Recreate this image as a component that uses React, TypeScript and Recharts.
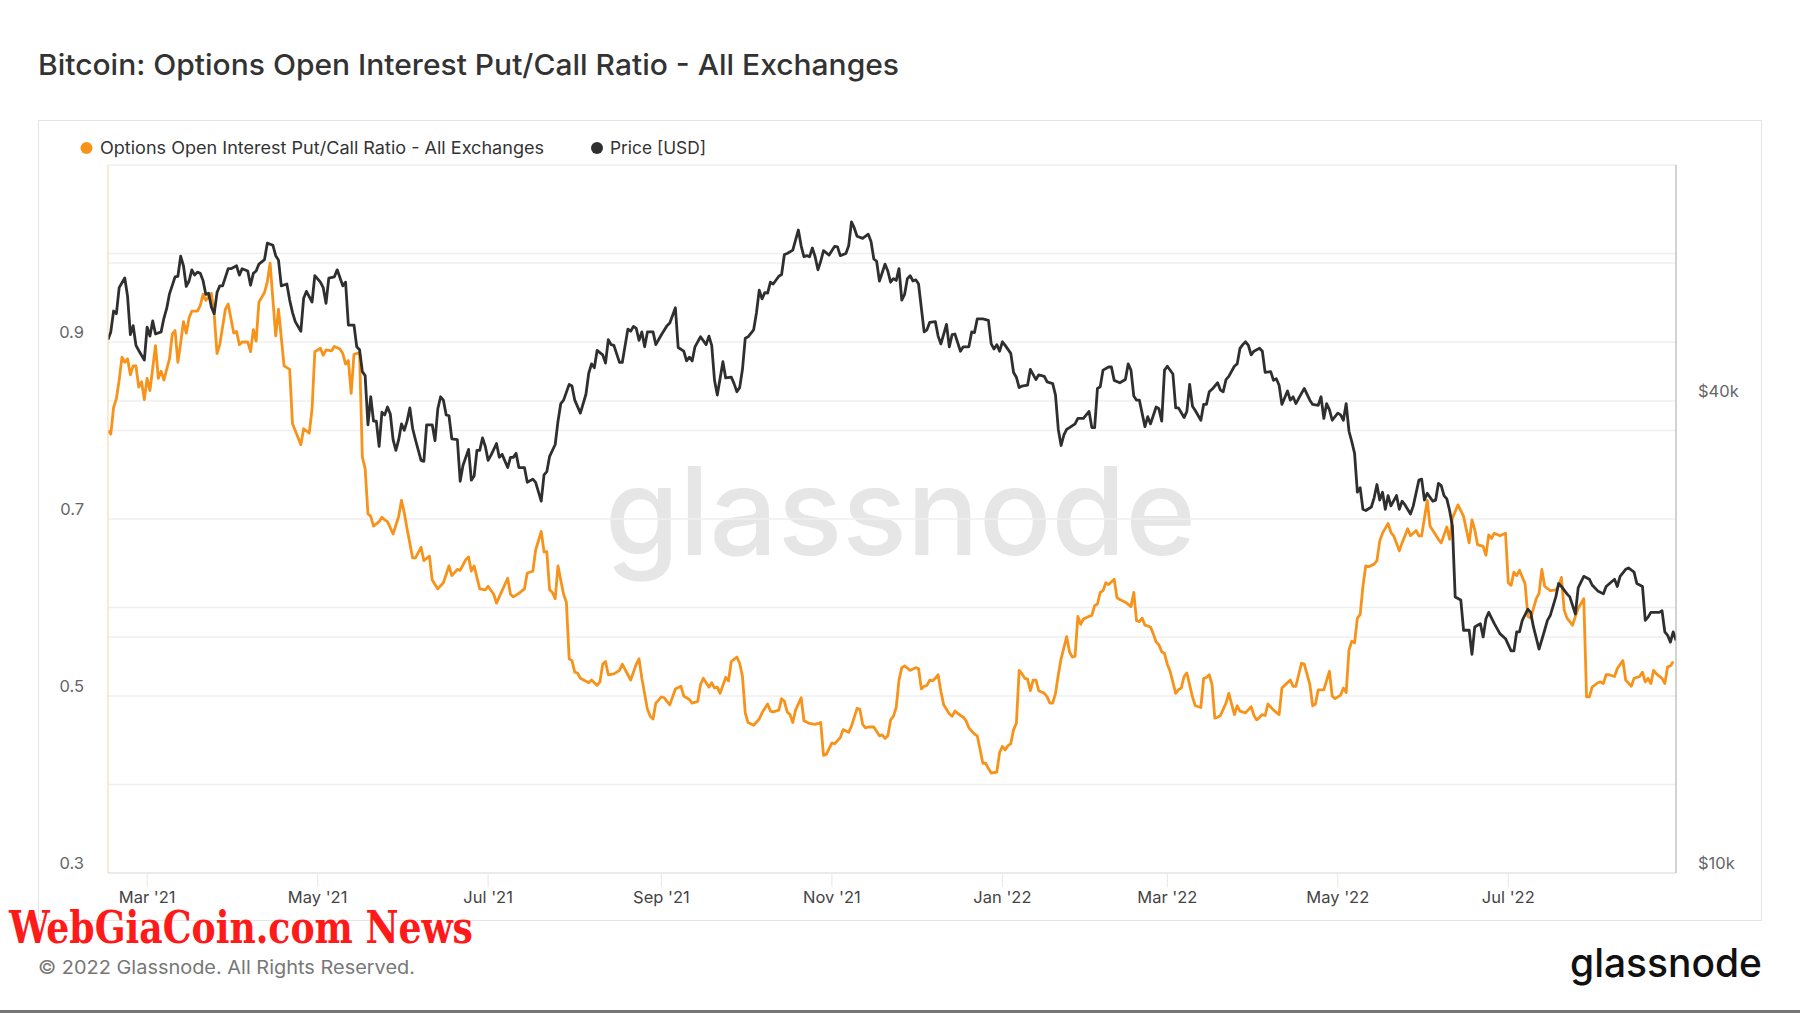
import React from 'react';
import { LineChart, Line, XAxis, YAxis, CartesianGrid, ReferenceLine } from 'recharts';

// day 0 = 2021-02-15, the first day on the chart
const START_DATE = '2021-02-15';
const LAST_DAY = 561;
const DAY_MS = 86400000;

const ratioDays = [
  0, 1, 2, 3, 4, 5, 6, 7, 8, 9,
  10, 11, 12, 13, 14, 15, 17, 18, 19, 20,
  21, 22, 23, 24, 25, 26, 27, 28, 29, 30,
  32, 33, 34, 35, 37, 38, 39, 40, 42, 43,
  45, 46, 47, 48, 50, 51, 52, 53, 54, 56,
  57, 58, 60, 61, 63, 65, 66, 69, 70, 72,
  73, 74, 76, 77, 78, 80, 81, 83, 84, 85,
  86, 87, 88, 90, 91, 92, 93, 94, 95, 97,
  98, 99, 100, 102, 104, 105, 106, 107, 109, 110,
  112, 113, 115, 116, 118, 120, 122, 123, 125, 126,
  128, 129, 130, 131, 133, 135, 136, 138, 139, 141,
  143, 144, 145, 147, 149, 150, 152, 153, 155, 156,
  157, 158, 159, 160, 161, 163, 164, 165, 166, 167,
  168, 169, 172, 173, 175, 176, 177, 178, 179, 181,
  183, 184, 186, 187, 188, 189, 190, 191, 193, 194,
  195, 196, 198, 199, 201, 203, 205, 206, 208, 209,
  211, 212, 213, 215, 216, 217, 218, 219, 221, 222,
  223, 225, 226, 227, 228, 229, 231, 233, 234, 236,
  237, 238, 240, 241, 242, 243, 244, 245, 246, 248,
  249, 251, 253, 255, 256, 257, 259, 260, 262, 263,
  265, 266, 268, 269, 270, 271, 272, 274, 276, 277,
  278, 279, 280, 281, 282, 283, 284, 285, 287, 289,
  290, 291, 292, 293, 294, 295, 296, 297, 298, 299,
  301, 302, 303, 305, 306, 307, 308, 310, 311, 312,
  313, 314, 315, 316, 318, 319, 320, 321, 322, 323,
  324, 325, 326, 327, 328, 329, 330, 331, 332, 333,
  335, 336, 337, 338, 339, 340, 341, 343, 344, 345,
  346, 347, 348, 349, 351, 352, 353, 354, 355, 356,
  357, 358, 360, 361, 362, 364, 366, 367, 368, 369,
  370, 371, 373, 374, 375, 376, 377, 378, 379, 380,
  382, 383, 384, 385, 386, 388, 389, 391, 392, 393,
  394, 395, 396, 397, 398, 400, 401, 403, 404, 405,
  407, 409, 410, 411, 413, 414, 415, 417, 419, 420,
  421, 423, 424, 425, 427, 428, 430, 431, 432, 433,
  435, 437, 438, 439, 441, 442, 443, 444, 445, 446,
  447, 448, 449, 450, 451, 453, 454, 455, 456, 458,
  459, 460, 462, 463, 465, 466, 468, 469, 470, 472,
  473, 474, 476, 477, 479, 480, 481, 483, 485, 486,
  487, 488, 489, 490, 492, 493, 494, 495, 496, 498,
  500, 501, 502, 503, 504, 505, 507, 508, 509, 511,
  512, 513, 514, 516, 518, 519, 520, 521, 522, 524,
  525, 526, 528, 529, 530, 531, 533, 534, 535, 536,
  537, 539, 540, 542, 543, 545, 546, 548, 549, 550,
  551, 552, 553, 554, 556, 557, 558, 559, 560,
];

const ratioValues = [
  0.800, 0.796, 0.826, 0.836, 0.857, 0.883, 0.877, 0.881, 0.863, 0.873,
  0.873, 0.849, 0.855, 0.835, 0.859, 0.845, 0.896, 0.859, 0.867, 0.857,
  0.869, 0.881, 0.909, 0.913, 0.877, 0.899, 0.923, 0.910, 0.927, 0.935,
  0.935, 0.941, 0.954, 0.947, 0.955, 0.931, 0.887, 0.897, 0.937, 0.943,
  0.910, 0.912, 0.897, 0.900, 0.900, 0.889, 0.914, 0.901, 0.945, 0.956,
  0.968, 0.989, 0.907, 0.937, 0.873, 0.869, 0.808, 0.784, 0.802, 0.797,
  0.824, 0.889, 0.893, 0.885, 0.891, 0.890, 0.895, 0.892, 0.887, 0.875,
  0.879, 0.842, 0.886, 0.888, 0.770, 0.757, 0.706, 0.703, 0.692, 0.697,
  0.702, 0.699, 0.697, 0.683, 0.703, 0.721, 0.707, 0.689, 0.656, 0.656,
  0.668, 0.653, 0.658, 0.631, 0.621, 0.628, 0.647, 0.636, 0.643, 0.642,
  0.654, 0.657, 0.641, 0.647, 0.621, 0.620, 0.624, 0.615, 0.605, 0.619,
  0.633, 0.615, 0.612, 0.616, 0.621, 0.639, 0.641, 0.665, 0.686, 0.663,
  0.663, 0.620, 0.617, 0.610, 0.647, 0.615, 0.606, 0.542, 0.540, 0.527,
  0.526, 0.520, 0.515, 0.518, 0.512, 0.516, 0.536, 0.539, 0.524, 0.525,
  0.529, 0.536, 0.524, 0.518, 0.527, 0.536, 0.542, 0.520, 0.485, 0.477,
  0.474, 0.492, 0.499, 0.498, 0.490, 0.508, 0.511, 0.500, 0.496, 0.492,
  0.494, 0.513, 0.520, 0.510, 0.515, 0.509, 0.510, 0.503, 0.521, 0.517,
  0.539, 0.544, 0.537, 0.522, 0.481, 0.470, 0.467, 0.474, 0.481, 0.491,
  0.483, 0.482, 0.484, 0.497, 0.494, 0.482, 0.479, 0.470, 0.484, 0.498,
  0.472, 0.469, 0.468, 0.470, 0.433, 0.434, 0.447, 0.446, 0.453, 0.462,
  0.459, 0.466, 0.486, 0.485, 0.468, 0.464, 0.465, 0.465, 0.455, 0.456,
  0.452, 0.455, 0.473, 0.477, 0.487, 0.518, 0.532, 0.534, 0.529, 0.532,
  0.531, 0.508, 0.511, 0.512, 0.518, 0.517, 0.520, 0.524, 0.505, 0.490,
  0.480, 0.477, 0.483, 0.478, 0.476, 0.472, 0.464, 0.457, 0.455, 0.440,
  0.424, 0.424, 0.418, 0.413, 0.414, 0.436, 0.443, 0.439, 0.444, 0.446,
  0.462, 0.469, 0.529, 0.525, 0.520, 0.519, 0.506, 0.518, 0.518, 0.506,
  0.503, 0.499, 0.492, 0.492, 0.503, 0.524, 0.542, 0.567, 0.550, 0.544,
  0.545, 0.590, 0.581, 0.587, 0.590, 0.591, 0.602, 0.604, 0.617, 0.619,
  0.628, 0.626, 0.632, 0.611, 0.609, 0.606, 0.601, 0.617, 0.585, 0.584,
  0.588, 0.580, 0.578, 0.570, 0.561, 0.558, 0.550, 0.548, 0.536, 0.528,
  0.503, 0.507, 0.509, 0.522, 0.526, 0.499, 0.489, 0.487, 0.520, 0.521,
  0.524, 0.513, 0.475, 0.476, 0.478, 0.492, 0.503, 0.479, 0.489, 0.483,
  0.481, 0.488, 0.478, 0.473, 0.479, 0.478, 0.491, 0.484, 0.479, 0.509,
  0.512, 0.518, 0.511, 0.511, 0.537, 0.536, 0.513, 0.489, 0.491, 0.507,
  0.507, 0.528, 0.500, 0.497, 0.501, 0.509, 0.504, 0.552, 0.562, 0.560,
  0.588, 0.592, 0.624, 0.647, 0.646, 0.649, 0.653, 0.675, 0.684, 0.695,
  0.685, 0.681, 0.664, 0.673, 0.689, 0.681, 0.687, 0.681, 0.681, 0.721,
  0.692, 0.687, 0.677, 0.673, 0.691, 0.677, 0.701, 0.716, 0.703, 0.688,
  0.673, 0.699, 0.688, 0.671, 0.669, 0.659, 0.682, 0.678, 0.684, 0.681,
  0.684, 0.628, 0.625, 0.640, 0.636, 0.642, 0.627, 0.590, 0.588, 0.610,
  0.616, 0.643, 0.624, 0.619, 0.620, 0.624, 0.634, 0.597, 0.588, 0.580,
  0.590, 0.599, 0.610, 0.499, 0.499, 0.510, 0.515, 0.516, 0.514, 0.524,
  0.524, 0.522, 0.531, 0.540, 0.518, 0.511, 0.520, 0.522, 0.527, 0.516,
  0.520, 0.514, 0.529, 0.525, 0.520, 0.514, 0.533, 0.534, 0.539,
];

const priceDays = [
  0, 1, 2, 3, 4, 6, 7, 8, 9, 10,
  11, 13, 14, 15, 16, 17, 19, 20, 21, 22,
  24, 25, 26, 27, 28, 29, 30, 31, 32, 33,
  34, 35, 36, 37, 38, 39, 40, 41, 43, 44,
  46, 47, 48, 50, 51, 52, 53, 54, 56, 57,
  59, 60, 61, 62, 64, 65, 66, 67, 69, 70,
  71, 73, 74, 76, 77, 78, 79, 81, 82, 84,
  85, 86, 88, 89, 90, 91, 92, 93, 94, 95,
  96, 97, 98, 99, 100, 101, 102, 103, 104, 105,
  106, 107, 108, 109, 110, 112, 113, 114, 116, 117,
  118, 119, 120, 121, 122, 123, 125, 126, 127, 129,
  130, 131, 132, 133, 134, 135, 136, 137, 139, 140,
  141, 143, 144, 145, 146, 147, 149, 150, 152, 153,
  155, 156, 157, 158, 160, 161, 162, 163, 165, 166,
  167, 169, 171, 172, 173, 174, 175, 177, 178, 179,
  180, 181, 183, 184, 186, 187, 188, 189, 190, 191,
  192, 193, 195, 196, 198, 200, 201, 203, 204, 206,
  207, 208, 209, 210, 212, 214, 215, 216, 217, 218,
  220, 221, 223, 224, 225, 226, 227, 228, 229, 231,
  232, 233, 234, 235, 236, 237, 238, 240, 241, 242,
  243, 245, 247, 248, 249, 250, 251, 252, 253, 254,
  255, 256, 258, 260, 261, 262, 264, 265, 266, 267,
  268, 270, 272, 273, 274, 275, 276, 277, 278, 279,
  280, 281, 282, 283, 284, 285, 286, 287, 288, 289,
  290, 292, 293, 294, 296, 297, 298, 300, 301, 302,
  303, 305, 306, 308, 309, 310, 311, 313, 315, 316,
  317, 318, 319, 320, 321, 323, 324, 325, 326, 327,
  329, 330, 332, 333, 335, 336, 338, 339, 340, 341,
  342, 343, 344, 346, 347, 349, 351, 352, 353, 354,
  355, 356, 358, 359, 360, 362, 364, 365, 366, 367,
  368, 369, 371, 372, 373, 375, 376, 377, 378, 379,
  381, 382, 383, 385, 386, 387, 388, 389, 391, 392,
  393, 394, 395, 397, 398, 399, 400, 401, 403, 404,
  405, 406, 407, 408, 409, 410, 412, 413, 414, 416,
  417, 418, 419, 420, 422, 423, 424, 425, 427, 428,
  430, 431, 433, 434, 435, 436, 437, 438, 440, 441,
  442, 443, 444, 445, 446, 447, 448, 449, 450, 452,
  453, 454, 455, 456, 457, 458, 459, 461, 462, 463,
  464, 466, 467, 469, 470, 471, 472, 474, 475, 476,
  477, 478, 479, 480, 481, 482, 484, 485, 487, 488,
  489, 490, 491, 492, 493, 494, 496, 498, 500, 502,
  503, 504, 505, 506, 508, 509, 510, 512, 514, 515,
  516, 518, 519, 520, 522, 523, 525, 526, 528, 530,
  531, 533, 535, 536, 539, 540, 541, 543, 544, 546,
  547, 549, 550, 551, 552, 555, 556, 557, 558, 559,
  560, 561,
];

// BTC price, thousands of USD
const priceValuesK = [
  47.9, 49.0, 52.1, 51.7, 55.8, 57.4, 54.4, 48.6, 49.9, 47.1,
  46.4, 45.1, 49.7, 48.4, 50.6, 48.7, 49.0, 51.0, 52.5, 54.8,
  57.6, 57.7, 61.2, 59.5, 56.0, 56.9, 58.8, 57.9, 58.4, 58.2,
  57.0, 54.7, 54.9, 52.7, 51.7, 55.0, 56.1, 56.1, 59.0, 59.0,
  59.5, 57.9, 59.0, 58.6, 56.2, 58.2, 58.6, 59.8, 60.6, 63.6,
  63.2, 61.3, 60.5, 56.1, 56.4, 53.8, 51.9, 50.5, 49.1, 54.1,
  55.2, 53.5, 57.8, 56.7, 55.8, 53.3, 57.4, 57.6, 58.8, 56.1,
  56.7, 50.0, 50.0, 46.9, 46.5, 43.6, 43.1, 37.3, 40.5, 37.7,
  37.7, 35.0, 38.7, 38.4, 39.3, 38.5, 35.7, 34.6, 35.7, 37.4,
  36.7, 37.7, 39.2, 36.9, 35.7, 33.6, 33.5, 37.3, 37.3, 35.6,
  39.1, 40.5, 40.1, 38.4, 38.3, 35.8, 35.7, 31.6, 33.1, 34.7,
  31.7, 32.1, 34.6, 34.6, 35.9, 35.0, 33.6, 34.1, 35.3, 33.9,
  34.2, 32.9, 33.9, 33.9, 34.3, 32.9, 32.9, 31.5, 31.8, 31.5,
  29.8, 32.2, 32.5, 34.0, 35.2, 37.7, 39.7, 40.1, 42.0, 41.8,
  40.1, 38.6, 40.8, 43.4, 44.6, 44.1, 46.4, 45.8, 44.7, 47.9,
  47.2, 47.1, 44.8, 44.8, 49.4, 49.1, 49.8, 49.5, 47.8, 49.0,
  46.9, 49.0, 49.0, 47.2, 48.6, 49.9, 50.3, 52.6, 46.8, 46.3,
  45.0, 45.5, 45.0, 46.9, 48.3, 47.2, 48.4, 47.1, 42.5, 40.7,
  44.9, 42.8, 42.9, 42.1, 41.1, 41.6, 43.9, 48.1, 48.3, 49.3,
  51.8, 55.4, 54.0, 55.0, 54.9, 56.7, 56.4, 57.7, 58.0, 61.5,
  61.7, 62.3, 66.1, 63.1, 61.1, 61.3, 61.1, 62.7, 61.1, 58.8,
  60.3, 62.2, 61.4, 63.0, 62.9, 61.3, 61.7, 63.1, 67.7, 66.5,
  64.9, 64.5, 65.3, 63.9, 60.7, 60.3, 56.9, 58.3, 59.8, 58.6,
  56.7, 57.3, 57.0, 59.0, 53.8, 54.7, 57.3, 57.8, 56.9, 57.1,
  56.4, 49.0, 49.3, 50.4, 50.5, 48.4, 47.3, 50.1, 46.9, 48.6,
  48.7, 46.3, 46.9, 46.9, 49.0, 48.9, 50.9, 50.9, 50.7, 47.3,
  46.6, 47.2, 46.3, 47.6, 47.1, 46.0, 43.5, 42.9, 41.6, 41.8,
  41.9, 43.9, 42.6, 43.2, 43.0, 42.3, 42.1, 40.7, 36.8, 35.1,
  36.2, 36.8, 37.0, 37.4, 38.0, 38.0, 38.8, 37.0, 37.0, 41.5,
  41.7, 43.8, 44.2, 44.2, 42.5, 42.2, 42.6, 44.6, 43.8, 40.6,
  40.1, 40.1, 37.1, 38.2, 37.4, 39.3, 39.1, 37.7, 43.8, 44.3,
  43.3, 39.2, 39.2, 38.1, 38.8, 42.0, 39.4, 38.9, 37.8, 39.6,
  39.6, 41.1, 41.4, 42.2, 41.3, 41.1, 42.6, 43.0, 44.3, 44.6,
  46.7, 47.2, 47.6, 47.1, 45.8, 46.3, 46.7, 46.3, 43.5, 43.6,
  42.5, 42.7, 41.9, 39.6, 41.2, 40.1, 40.5, 39.7, 40.9, 41.5,
  40.1, 39.6, 39.5, 40.5, 38.0, 39.7, 39.0, 37.8, 38.6, 38.4,
  37.8, 39.7, 36.6, 35.5, 34.3, 30.6, 31.0, 29.1, 29.0, 29.3,
  30.1, 31.3, 29.9, 30.6, 29.1, 30.3, 29.4, 30.3, 29.1, 29.8,
  29.5, 28.7, 29.4, 31.7, 31.8, 29.9, 30.5, 29.8, 29.9, 31.4,
  31.2, 30.3, 30.0, 29.0, 27.7, 22.5, 22.3, 20.4, 20.4, 19.0,
  20.6, 20.7, 20.8, 20.0, 21.1, 21.5, 20.8, 20.2, 19.9, 19.2,
  19.2, 20.3, 20.3, 21.0, 21.7, 21.5, 20.6, 19.3, 20.4, 21.0,
  21.3, 22.5, 23.4, 23.2, 22.7, 22.5, 21.4, 23.1, 23.9, 23.7,
  23.3, 22.9, 22.7, 23.2, 23.7, 23.2, 23.9, 24.4, 24.5, 24.2,
  23.4, 23.2, 21.0, 21.2, 21.5, 21.5, 21.6, 20.3, 20.1, 19.7,
  20.3, 19.8,
];

const monthTicks = [
  '2021-03-01', '2021-05-01', '2021-07-01', '2021-09-01', '2021-11-01',
  '2022-01-01', '2022-03-01', '2022-05-01', '2022-07-01',
];
const MONTHS = ['Jan', 'Feb', 'Mar', 'Apr', 'May', 'Jun', 'Jul', 'Aug', 'Sep', 'Oct', 'Nov', 'Dec'];

const ratioTicks = [0.3, 0.4, 0.5, 0.6, 0.7, 0.8, 0.9, 1.0, 1.1];
const ratioLabelTenths = [3, 5, 7, 9];
const priceTicks = [10000, 40000];
const priceGridLines = [20000, 40000, 60000];

const start = Date.parse(START_DATE);
const ratioData = ratioDays.map((d, i) => ({ t: start + d * DAY_MS, ratio: ratioValues[i] }));
const priceData = priceDays.map((d, i) => ({ t: start + d * DAY_MS, price: priceValuesK[i] * 1000 }));
const xTicks = monthTicks.map((s) => Date.parse(s));

const ORANGE = '#f7931a';
const DARK = '#2f2f2f';
const FONT = 'Inter, "Noto Sans", sans-serif';
const GRID = '#efefef';

const fmtMonth = (t: number) => {
  const d = new Date(t);
  return `${MONTHS[d.getUTCMonth()]} '${String(d.getUTCFullYear()).slice(2)}`;
};

function MonthTick({ x, y, payload }: any) {
  return (
    <text x={x} y={y + 8} textAnchor="middle" dominantBaseline="central" fontSize={16.5} fill="#444" fontFamily={FONT}>
      {fmtMonth(payload.value)}
    </text>
  );
}

function RatioTick({ x, y, payload }: any) {
  const tenths = Math.round(payload.value * 10);
  if (!ratioLabelTenths.includes(tenths)) return <g />;
  return (
    <text x={x} y={y - 10} textAnchor="end" dominantBaseline="central" fontSize={16.5} fill="#666" fontFamily={FONT}>
      {payload.value.toFixed(1)}
    </text>
  );
}

function PriceTick({ x, y, payload }: any) {
  return (
    <text x={x} y={y - 10} textAnchor="start" dominantBaseline="central" fontSize={16.5} fill="#666" fontFamily={FONT}>
      {`$${payload.value / 1000}k`}
    </text>
  );
}

export default function App() {
  return (
    <div style={{ position: 'relative', width: 1800, height: 1013, background: '#fff', overflow: 'hidden', fontFamily: FONT }}>
      <style>{'body{margin:0}'}</style>
      <svg width={1800} height={1013} style={{ position: 'absolute', left: 0, top: 0 }}>
        <text x={38} y={75} fontSize={29} fontWeight={500} fill="#333" fontFamily={FONT} textLength={861} lengthAdjust="spacingAndGlyphs">
          Bitcoin: Options Open Interest Put/Call Ratio - All Exchanges
        </text>
        <rect x={38.5} y={120.5} width={1723} height={800} fill="none" stroke="#e4e4e4" />
        <circle cx={86.5} cy={148} r={6} fill={ORANGE} />
        <text x={100} y={148} dominantBaseline="central" fontSize={17} fill="#333" fontFamily={FONT} textLength={444} lengthAdjust="spacingAndGlyphs">
          Options Open Interest Put/Call Ratio - All Exchanges
        </text>
        <circle cx={597} cy={148} r={6} fill={DARK} />
        <text x={610} y={148} dominantBaseline="central" fontSize={17} fill="#333" fontFamily={FONT} textLength={96} lengthAdjust="spacingAndGlyphs">
          Price [USD]
        </text>
        <text x={605} y={555} fontSize={122} fontWeight={500} fill="#e6e6e6" fontFamily={FONT} textLength={591} lengthAdjust="spacingAndGlyphs">
          glassnode
        </text>
        <text x={9} y={943} fontSize={40} fontWeight={700} fill="#ff1a1a" fontFamily={'"DejaVu Serif Condensed", "DejaVu Serif", serif'} textLength={464} lengthAdjust="spacingAndGlyphs" transform="translate(0 943) scale(1 1.12) translate(0 -943)">
          WebGiaCoin.com News
        </text>
        <text x={38} y={974} fontSize={18.5} fill="#777" fontFamily={FONT} textLength={377} lengthAdjust="spacingAndGlyphs">
          © 2022 Glassnode. All Rights Reserved.
        </text>
        <text x={1570} y={977} fontSize={40} fontWeight={500} fill="#111" fontFamily={FONT} textLength={192} lengthAdjust="spacingAndGlyphs">
          glassnode
        </text>
        <rect x={0} y={1010} width={1800} height={3} fill="#777" />
      </svg>
      <div style={{ position: 'absolute', left: 0, top: 0 }}>
        <LineChart width={1800} height={1013} margin={{ top: 165, right: 0, bottom: 100, left: 0 }}>
          <CartesianGrid vertical={false} yAxisId="left" stroke={GRID} strokeWidth={1.5} />
          <XAxis
            dataKey="t"
            type="number"
            domain={[start, start + LAST_DAY * DAY_MS]}
            allowDataOverflow
            ticks={xTicks}
            height={40}
            tickSize={14}
            tick={<MonthTick />}
            tickLine={{ stroke: '#e6e6e6' }}
            axisLine={{ stroke: '#e2e2e2' }}
          />
          <YAxis
            yAxisId="left"
            domain={[0.3, 1.1]}
            allowDataOverflow
            ticks={ratioTicks}
            width={108}
            tickLine={false}
            tickSize={0}
            tickMargin={24}
            tick={<RatioTick />}
            axisLine={{ stroke: '#fbd2a2' }}
          />
          <YAxis
            yAxisId="right"
            orientation="right"
            scale="log"
            domain={[10000, 80000]}
            allowDataOverflow
            ticks={priceTicks}
            width={124}
            tickLine={false}
            tickSize={0}
            tickMargin={22}
            tick={<PriceTick />}
            axisLine={{ stroke: '#a6a6a6' }}
          />
          {priceGridLines.map((v) => (
            <ReferenceLine key={v} yAxisId="right" y={v} stroke={GRID} strokeWidth={1.5} />
          ))}
          <Line
            yAxisId="left"
            data={ratioData}
            dataKey="ratio"
            type="linear"
            stroke={ORANGE}
            strokeWidth={2.8}
            strokeLinejoin="round"
            dot={false}
            activeDot={false}
            isAnimationActive={false}
          />
          <Line
            yAxisId="right"
            data={priceData}
            dataKey="price"
            type="linear"
            stroke={DARK}
            strokeWidth={2.8}
            strokeLinejoin="round"
            dot={false}
            activeDot={false}
            isAnimationActive={false}
          />
        </LineChart>
      </div>
    </div>
  );
}
